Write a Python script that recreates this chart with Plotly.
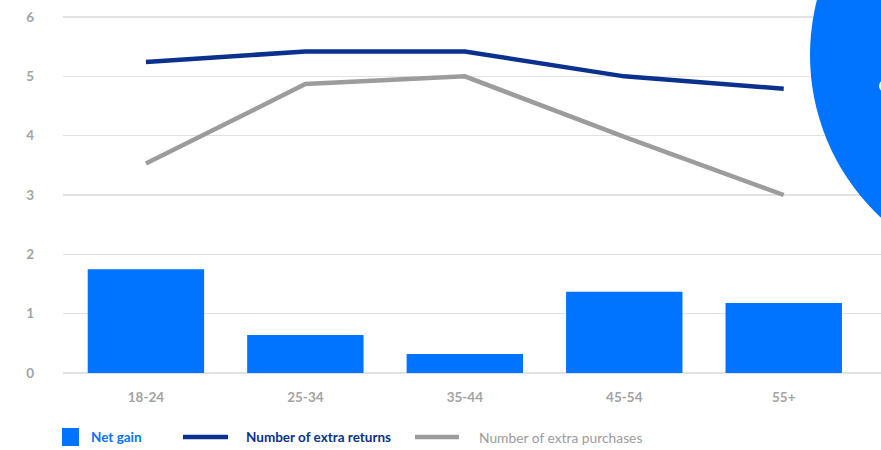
import plotly.graph_objects as go

categories = ["18-24", "25-34", "35-44", "45-54", "55+"]
net_gain = [1.75, 0.64, 0.32, 1.37, 1.18]
extra_returns = [5.24, 5.42, 5.42, 5.0, 4.79]
extra_purchases = [3.53, 4.87, 5.0, 3.98, 3.0]
y_ticks = [0, 1, 2, 3, 4, 5, 6]

BLUE = "#0073FF"
NAVY = "#0B318F"
GRAY = "#9C9C9C"
FONT = "Lato"

fig = go.Figure()
fig.add_trace(go.Bar(x=categories, y=net_gain, name="Net gain",
                     marker=dict(color=BLUE, line=dict(width=0)), width=0.73,
                     showlegend=False, hoverinfo="skip"))
fig.add_trace(go.Scatter(x=categories, y=extra_returns, mode="lines",
                         name="Number of extra returns",
                         line=dict(color=NAVY, width=4.5), showlegend=False, hoverinfo="skip"))
fig.add_trace(go.Scatter(x=categories, y=extra_purchases, mode="lines",
                         name="Number of extra purchases",
                         line=dict(color=GRAY, width=4.5), showlegend=False, hoverinfo="skip"))

# plot area: x 63..881 px, y 0..373 px
W, H = 818.0, 373.0
def px(x):
    return (x - 63) / W
def py(y):
    return (373 - y) / H

shapes = [
    # big decorative circle at the right edge
    dict(type="circle", xref="paper", yref="paper", xsizemode="pixel", ysizemode="pixel",
         xanchor=px(1032), yanchor=py(55), x0=-222, x1=222, y0=-222, y1=222,
         fillcolor=BLUE, line=dict(width=0), layer="above"),
    dict(type="circle", xref="paper", yref="paper", xsizemode="pixel", ysizemode="pixel",
         xanchor=px(887), yanchor=py(86), x0=-8, x1=8, y0=-7, y1=7,
         fillcolor="white", line=dict(width=0), layer="above"),
    # legend symbols
    dict(type="rect", xref="paper", yref="paper", x0=px(62), x1=px(79), y0=py(446), y1=py(428),
         fillcolor=BLUE, line=dict(width=0)),
    dict(type="line", xref="paper", yref="paper", x0=px(183), x1=px(228), y0=py(437), y1=py(437),
         line=dict(color=NAVY, width=4.5)),
    dict(type="line", xref="paper", yref="paper", x0=px(415), x1=px(459), y0=py(437), y1=py(437),
         line=dict(color=GRAY, width=4.5)),
]

annotations = [
    dict(text="Net gain", xref="paper", yref="paper", x=px(89), y=py(437), xanchor="left",
         yanchor="middle", showarrow=False, font=dict(family=FONT, size=13.5, color=BLUE, weight="bold")),
    dict(text="Number of extra returns", xref="paper", yref="paper", x=px(244), y=py(437),
         xanchor="left", yanchor="middle", showarrow=False,
         font=dict(family=FONT, size=13.5, color=NAVY, weight="bold")),
    dict(text="Number of extra purchases", xref="paper", yref="paper", x=px(477), y=py(437),
         xanchor="left", yanchor="middle", showarrow=False,
         font=dict(family=FONT, size=13.8, color=GRAY, weight="normal")),
]

fig.update_layout(
    width=881, height=450,
    margin=dict(l=63, r=0, t=0, b=77, pad=0),
    paper_bgcolor="white", plot_bgcolor="white",
    showlegend=False,
    hovermode=False,
    shapes=shapes,
    annotations=annotations,
    xaxis=dict(type="category", range=[-0.52, 4.61], showgrid=False, zeroline=False,
               showline=False, ticks="", ticklabelstandoff=14,
               tickfont=dict(family=FONT, size=13.5, color="#A3A3A3", weight="bold")),
    yaxis=dict(range=[0, 373 / 59.33], tickvals=y_ticks, showgrid=True,
               gridcolor="#E2E2E2", gridwidth=1.5, zeroline=True, zerolinecolor="#E2E2E2",
               zerolinewidth=1.5, showline=False, ticks="", ticklabelstandoff=28,
               tickfont=dict(family=FONT, size=13.5, color="#A3A3A3", weight="bold")),
)

fig.write_html("out.html", config={"displayModeBar": False, "staticPlot": True},
               post_script="document.body.style.margin='0';document.body.style.overflow='hidden';")
